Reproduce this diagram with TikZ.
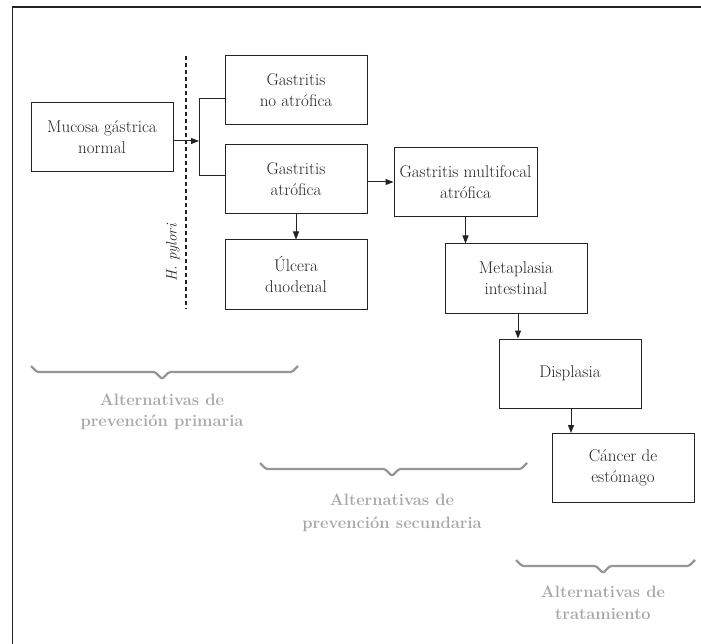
\documentclass[tikz,border=0pt]{standalone}
\usetikzlibrary{arrows.meta}
\definecolor{ink}{RGB}{35,35,35}
\definecolor{lbl}{RGB}{168,168,168}
\definecolor{brc}{RGB}{150,150,150}
\begin{document}
\begin{tikzpicture}[x=1pt,y=-1pt,
  box/.style={draw=ink,line width=1pt,minimum width=142pt,minimum height=69pt,inner sep=2pt,
    align=center,text=ink,font=\fontsize{17}{21}\selectfont},
  conn/.style={draw=ink,line width=1pt},
  arr/.style={conn,-{Triangle[length=8pt,width=6pt]}},
  brace/.style={draw=brc,line width=2.2pt,line join=round,rounded corners=1.5pt},
  lab/.style={text=lbl,align=center,font=\fontsize{16.5}{22}\selectfont\bfseries,anchor=base}
]
\useasboundingbox (0,0) rectangle (701,644);
% frame
\draw[draw=ink,line width=1.8pt] (12.5,650) -- (12.5,7) -- (710,7);

% boxes
\node[box] (mucosa) at (102,137.5) {Mucosa gástrica\\normal};
\node[box] (noatrof) at (296,90.5) {Gastritis\\no atrófica};
\node[box] (atrof) at (296,179.5) {Gastritis\\atrófica};
\node[box] (ulcera) at (296,274.5) {Úlcera\\duodenal};
\node[box,minimum width=143pt] (multi) at (465.5,182.5) {Gastritis multifocal\\atrófica};
\node[box] (meta) at (516,278.5) {Metaplasia\\intestinal};
\node[box] (displ) at (570,373.5) {Displasia};
\node[box] (cancer) at (623,468) {Cáncer de\\estómago};

% H. pylori dashed line
\coordinate (dtop) at (186,56);
\coordinate (dbot) at (186,309);
\draw[draw=ink,line width=1.1pt,dash pattern=on 4pt off 3pt] (dtop) -- (dbot);
\node[rotate=90,text=ink,font=\fontsize{15}{18}\selectfont\itshape] (hp) at (173,253) {H. pylori};

% connectors
\coordinate (br) at (199,141);
\coordinate (b1) at (199,99);
\coordinate (b2) at (199,176);
\draw[arr] (mucosa.east |- br) -- (br);
\draw[conn] (b1 -| noatrof.west) -- (b1) -- (b2) -- (b2 -| atrof.west);
\draw[arr] (atrof.south) -- (atrof.south |- ulcera.north);
\coordinate (hm) at (367,182);
\draw[arr] (hm -| atrof.east) -- (hm -| multi.west);
\draw[arr] (multi.south) -- (multi.south |- meta.north);
\draw[arr] ([xshift=2pt]meta.south) -- ([xshift=2pt]meta.south |- displ.north);
\draw[arr] ([xshift=1pt]displ.south) -- ([xshift=1pt]displ.south |- cancer.north);

% braces
\draw[brace] (31,366) -- (37,372) -- (155,372) -- (162,379) -- (169,372) -- (292,372) -- (298,366);
\draw[brace] (260,463) -- (266,469) -- (385,469) -- (392,476) -- (399,469) -- (521,469) -- (527,463);
\draw[brace] (516,560) -- (522,566) -- (596,566) -- (603,573) -- (610,566) -- (689,566) -- (695,560);

% labels
\node[lab] (l1a) at (162,405) {Alternativas de};
\node[lab] (l1b) at (162,426) {prevención primaria};
\node[lab] (l2a) at (392,505) {Alternativas de};
\node[lab] (l2b) at (392,528) {prevención secundaria};
\node[lab] (l3a) at (603,597) {Alternativas de};
\node[lab] (l3b) at (603,619) {tratamiento};
\end{tikzpicture}
\end{document}
